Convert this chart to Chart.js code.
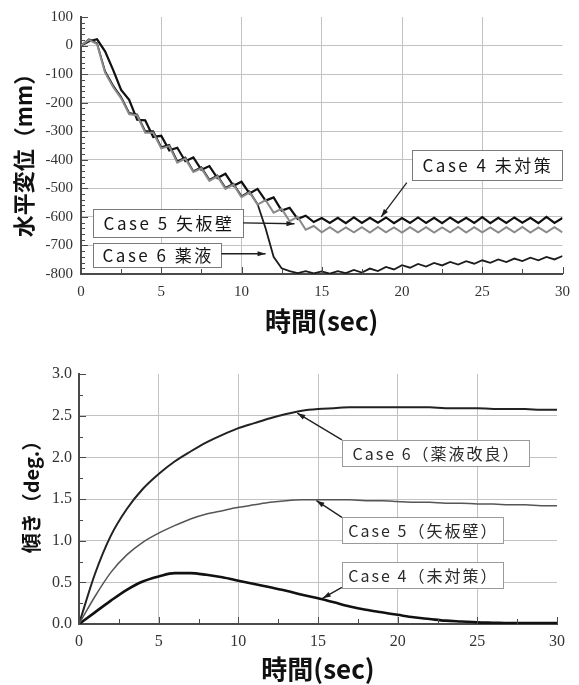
<!DOCTYPE html>
<html>
<head>
<meta charset="utf-8">
<script src="https://cdn.jsdelivr.net/npm/chart.js@4/dist/chart.umd.min.js"></script>
<style>
  html, body { margin: 0; padding: 0; background: #fff; }
  #wrap { position: relative; width: 579px; height: 685px; overflow: hidden; }
  #dispChart { position: absolute; left: 0; top: 0; }
  #tiltChart { position: absolute; left: 0; top: 340px; }
</style>
</head>
<body>
<div id="wrap">
  <canvas id="dispChart" width="579" height="340"></canvas>
  <canvas id="tiltChart" width="579" height="345"></canvas>
</div>
<script>
// ---- horizontal displacement (mm), sampled every 0.5 s ----
const timeDisp = [0,0.5,1,1.5,2,2.5,3,3.5,4,4.5,5,5.5,6,6.5,7,7.5,8,8.5,9,9.5,10,10.5,11,11.5,12,12.5,13,13.5,14,14.5,15,15.5,16,16.5,17,17.5,18,18.5,19,19.5,20,20.5,21,21.5,22,22.5,23,23.5,24,24.5,25,25.5,26,26.5,27,27.5,28,28.5,29,29.5,30];
const case4Disp = [0,15,22,-20,-85,-155,-190,-260,-262,-320,-316,-367,-358,-405,-392,-435,-422,-464,-449,-491,-477,-518,-502,-543,-532,-578,-568,-607,-596,-618,
  -604,-621,-603,-622,-602,-621,-603,-620,-602,-622,-604,-621,-602,-621,-603,-622,-602,-620,-603,-621,-601,-622,-603,-621,-602,-620,-603,-622,-600,-621,-604];
const case5Disp = [0,20,5,-95,-145,-185,-240,-245,-305,-305,-360,-352,-410,-396,-443,-430,-474,-458,-502,-487,-531,-514,-557,-541,-585,-572,-615,-600,-645,-632,
  -654,-636,-655,-637,-654,-636,-655,-635,-654,-637,-655,-636,-654,-636,-655,-637,-654,-635,-655,-636,-654,-637,-655,-636,-654,-635,-655,-637,-654,-636,-654];
const case6Disp = [0,22,8,-90,-140,-180,-236,-242,-300,-300,-356,-348,-405,-392,-440,-426,-470,-455,-498,-484,-528,-511,-555,-640,-740,-780,-790,-797,
  -790,-798,-791,-799,-790,-797,-786,-795,-781,-790,-775,-784,-769,-778,-765,-774,-761,-770,-758,-767,-755,-764,-752,-761,-749,-758,-746,-755,-743,-752,-740,-749,-737];
const timeTicks = [0,5,10,15,20,25,30];
const dispTicks = [100,0,-100,-200,-300,-400,-500,-600,-700,-800];

// ---- tilt angle (deg.), sampled every 1 s ----
const timeTilt = [0,1,2,3,4,5,6,7,8,9,10,11,12,13,14,15,16,17,18,19,20,21,22,23,24,25,26,27,28,29,30];
const case6Tilt = [0,0.6,1.06,1.38,1.62,1.8,1.95,2.07,2.18,2.27,2.35,2.41,2.47,2.52,2.56,2.58,2.59,2.6,2.6,2.6,2.6,2.6,2.6,2.59,2.59,2.59,2.58,2.58,2.58,2.57,2.57];
const case5Tilt = [0,0.33,0.62,0.83,0.98,1.09,1.18,1.26,1.32,1.36,1.4,1.43,1.46,1.48,1.49,1.49,1.49,1.49,1.48,1.48,1.47,1.46,1.46,1.45,1.45,1.44,1.44,1.43,1.43,1.42,1.42];
const case4Tilt = [0,0.14,0.28,0.41,0.51,0.57,0.61,0.61,0.59,0.56,0.52,0.48,0.44,0.4,0.35,0.31,0.26,0.21,0.17,0.14,0.11,0.08,0.06,0.04,0.03,0.02,0.015,0.01,0.01,0.01,0.01];
const tiltTicks = [0,0.5,1,1.5,2,2.5,3];

const pairs = (xs, ys) => xs.map((x, i) => ({ x: x, y: ys[i] }));

const SERIF = '"Liberation Serif", "DejaVu Serif", serif';
const SANS = '"Noto Sans CJK JP", "Noto Sans", sans-serif';

// Draws inward tick marks, boxed callouts with leader arrows, and axis titles.
function makeDecor(cfg) {
  return {
    id: 'decor',
    beforeDatasetsDraw(chart) {
      const { ctx, scales: { x, y } } = chart;
      ctx.save();
      cfg.notes.forEach(n => {
        const x1 = Math.round(x.getPixelForValue(n.box[0])) + 0.5;
        const x2 = Math.round(x.getPixelForValue(n.box[2])) + 0.5;
        const y1 = Math.round(y.getPixelForValue(n.box[1])) + 0.5;
        const y2 = Math.round(y.getPixelForValue(n.box[3])) + 0.5;
        ctx.fillStyle = '#fff';
        ctx.fillRect(x1, y1, x2 - x1, y2 - y1);
        ctx.strokeStyle = cfg.boxColor;
        ctx.lineWidth = 1;
        ctx.strokeRect(x1, y1, x2 - x1, y2 - y1);
      });
      ctx.restore();
    },
    afterDatasetsDraw(chart) {
      const { ctx, chartArea: a, scales: { x, y } } = chart;
      ctx.save();
      ctx.strokeStyle = cfg.axisColor;
      ctx.lineWidth = 1;
      // x ticks, drawn upward from the axis
      for (let i = 0; ; i++) {
        const v = x.min + i * cfg.xMinor;
        if (v > x.max + 1e-9) break;
        const major = Math.abs(v / cfg.xMajor - Math.round(v / cfg.xMajor)) < 1e-6;
        const px = Math.round(x.getPixelForValue(v)) + 0.5;
        ctx.beginPath();
        ctx.moveTo(px, a.bottom);
        ctx.lineTo(px, a.bottom - (major ? 7 : 5));
        ctx.stroke();
      }
      // y ticks, drawn rightward from the axis
      for (let i = 0; ; i++) {
        const v = y.min + i * cfg.yMinor;
        if (v > y.max + 1e-9) break;
        const major = Math.abs(v / cfg.yMajor - Math.round(v / cfg.yMajor)) < 1e-6;
        const py = Math.round(y.getPixelForValue(v)) + 0.5;
        ctx.beginPath();
        ctx.moveTo(a.left, py);
        ctx.lineTo(a.left + (major ? 7 : 4), py);
        ctx.stroke();
      }
      // callout text and leader arrows
      cfg.notes.forEach(n => {
        const ax = x.getPixelForValue(n.from[0]), ay = y.getPixelForValue(n.from[1]);
        const bx = x.getPixelForValue(n.to[0]), by = y.getPixelForValue(n.to[1]);
        ctx.strokeStyle = '#1e1e1e';
        ctx.fillStyle = '#1e1e1e';
        ctx.lineWidth = 1.3;
        ctx.beginPath();
        ctx.moveTo(ax, ay);
        ctx.lineTo(bx, by);
        ctx.stroke();
        const ang = Math.atan2(by - ay, bx - ax);
        const L = 8, W = 2.6;
        ctx.beginPath();
        ctx.moveTo(bx, by);
        ctx.lineTo(bx - L * Math.cos(ang) + W * Math.sin(ang), by - L * Math.sin(ang) - W * Math.cos(ang));
        ctx.lineTo(bx - L * Math.cos(ang) - W * Math.sin(ang), by - L * Math.sin(ang) + W * Math.cos(ang));
        ctx.closePath();
        ctx.fill();

        const cx = (x.getPixelForValue(n.box[0]) + x.getPixelForValue(n.box[2])) / 2;
        const cy = (y.getPixelForValue(n.box[1]) + y.getPixelForValue(n.box[3])) / 2;
        ctx.font = cfg.noteFont;
        ctx.letterSpacing = cfg.noteSpacing;
        ctx.fillStyle = cfg.noteColor;
        ctx.textAlign = 'center';
        ctx.textBaseline = 'middle';
        ctx.fillText(n.text, cx + 1, cy + 1);
        ctx.letterSpacing = '0px';
      });
      ctx.restore();
    },
    afterDraw(chart) {
      const { ctx, chartArea: a } = chart;
      ctx.save();
      ctx.fillStyle = '#111';
      ctx.textAlign = 'center';
      ctx.textBaseline = 'middle';
      ctx.font = cfg.xTitleFont;
      ctx.fillText(cfg.xTitle, (a.left + a.right) / 2, cfg.xTitleY);
      ctx.translate(cfg.yTitleX, cfg.yTitleY);
      ctx.rotate(-Math.PI / 2);
      ctx.font = cfg.yTitleFont;
      ctx.fillText(cfg.yTitle, 0, 0);
      ctx.restore();
    }
  };
}

function scaleOpts(min, max, tickList, fmt, pad, fontSize, hideVals, size, isX) {
  return {
    type: 'linear',
    min: min,
    max: max,
    afterBuildTicks: s => { s.ticks = tickList.map(v => ({ value: v })); },
    afterFit: s => { if (isX) { s.height = size; } else { s.width = size; } },
    ticks: {
      autoSkip: false,
      maxRotation: 0,
      padding: pad,
      color: '#333',
      font: { family: SERIF, size: fontSize },
      callback: fmt
    },
    grid: {
      drawTicks: false,
      lineWidth: 1,
      color: c => (c.tick && hideVals.indexOf(c.tick.value) >= 0) ? 'rgba(0,0,0,0)' : '#c2c2c2'
    },
    border: { display: true, color: '#4a4a4a', width: 2 }
  };
}

// ---- displacement chart ----
new Chart(document.getElementById('dispChart'), {
  type: 'line',
  data: {
    datasets: [
      { label: 'Case 5 矢板壁', data: pairs(timeDisp, case5Disp), borderColor: '#8a8a8a', borderWidth: 2 },
      { label: 'Case 6 薬液', data: pairs(timeDisp, case6Disp), borderColor: '#1c1c1c', borderWidth: 1.8 },
      { label: 'Case 4 未対策', data: pairs(timeDisp, case4Disp), borderColor: '#101010', borderWidth: 2.2 }
    ]
  },
  options: {
    responsive: false,
    animation: false,
    devicePixelRatio: 1,
    layout: { padding: { top: 17, right: 11, left: 0, bottom: 0 } },
    elements: { point: { radius: 0 }, line: { tension: 0 } },
    plugins: { legend: { display: false }, tooltip: { enabled: false } },
    scales: {
      x: scaleOpts(0, 30, timeTicks, v => String(v), 9, 15, [0, 30], 66, true),
      y: scaleOpts(-800, 100, dispTicks, v => String(v), 8, 15, [100, -800], 81, false)
    }
  },
  plugins: [makeDecor({
    xMinor: 2.5, xMajor: 5, yMinor: 20, yMajor: 100,
    axisColor: '#4a4a4a', boxColor: '#7a7a7a',
    noteFont: '17px ' + SANS, noteSpacing: '2.5px', noteColor: '#151515',
    notes: [
      { text: 'Case 4 未対策', box: [20.64, -365, 29.94, -470], from: [20.3, -480], to: [18.7, -600] },
      { text: 'Case 5 矢板壁', box: [0.74, -572, 10.1, -670], from: [10.1, -621], to: [13.3, -624] },
      { text: 'Case 6 薬液', box: [0.74, -691, 8.75, -775], from: [8.75, -729], to: [11.5, -729] }
    ],
    xTitle: '時間(sec)', xTitleY: 321, xTitleFont: 'bold 26px ' + SANS,
    yTitle: '水平変位（mm）', yTitleX: 24, yTitleY: 150, yTitleFont: 'bold 22px ' + SANS
  })]
});

// ---- tilt chart ----
new Chart(document.getElementById('tiltChart'), {
  type: 'line',
  data: {
    datasets: [
      { label: 'Case 5（矢板壁）', data: pairs(timeTilt, case5Tilt), borderColor: '#555', borderWidth: 1.5 },
      { label: 'Case 6（薬液改良）', data: pairs(timeTilt, case6Tilt), borderColor: '#222', borderWidth: 2 },
      { label: 'Case 4（未対策）', data: pairs(timeTilt, case4Tilt), borderColor: '#111', borderWidth: 2.6 }
    ]
  },
  options: {
    responsive: false,
    animation: false,
    devicePixelRatio: 1,
    layout: { padding: { top: 34, right: 22, left: 0, bottom: 0 } },
    elements: { point: { radius: 0 }, line: { cubicInterpolationMode: 'monotone' } },
    plugins: { legend: { display: false }, tooltip: { enabled: false } },
    scales: {
      x: scaleOpts(0, 30, timeTicks, v => String(v), 8, 16, [0, 30], 61, true),
      y: scaleOpts(0, 3, tiltTicks, v => v.toFixed(1), 7, 16, [0, 3], 79, false)
    }
  },
  plugins: [makeDecor({
    xMinor: 2.5, xMajor: 5, yMinor: 0.25, yMajor: 0.5,
    axisColor: '#4a4a4a', boxColor: '#9a9a9a',
    noteFont: '16px ' + SANS, noteSpacing: '2px', noteColor: '#2a2a2a',
    notes: [
      { text: 'Case 6（薬液改良）', box: [16.5, 2.21, 28.25, 1.9], from: [16.5, 2.21], to: [13.7, 2.53] },
      { text: 'Case 5（矢板壁）', box: [16.5, 1.28, 26.6, 0.97], from: [16.5, 1.28], to: [14.9, 1.48] },
      { text: 'Case 4（未対策）', box: [16.5, 0.74, 26.6, 0.43], from: [16.5, 0.44], to: [15.3, 0.31] }
    ],
    xTitle: '時間(sec)', xTitleY: 329, xTitleFont: 'bold 26px ' + SANS,
    yTitle: '傾き（deg.）', yTitleX: 31, yTitleY: 152, yTitleFont: 'bold 20px ' + SANS
  })]
});
</script>
</body>
</html>
